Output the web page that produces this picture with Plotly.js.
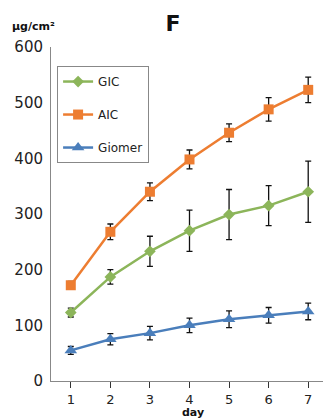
<!DOCTYPE html>
<html>
<head>
<meta charset="utf-8">
<script src="https://cdn.plot.ly/plotly-3.0.1.min.js"></script>
<style>
html,body{margin:0;padding:0;overflow:hidden;background:#fff;}
#chart{width:328px;height:419px;}
</style>
</head>
<body>
<div id="chart"></div>
<script>
const days = [1, 2, 3, 4, 5, 6, 7];
const gic = [123, 187, 233, 270, 299, 315, 340];
const gicErr = [8, 13, 27, 37, 45, 36, 55];
const aic = [172, 268, 340, 398, 446, 488, 523];
const aicErr = [7, 14, 16, 17, 16, 21, 23];
const giomer = [55, 75, 86, 100, 111, 118, 125];
const giomerErr = [7, 10, 12, 13, 15, 14, 15];
const seriesNames = ['GIC', 'AIC', 'Giomer'];

function trace(name, y, err, color, symbol, size, group) {
  return {
    x: days, y: y, name: name, type: 'scatter', mode: 'lines+markers',
    legendgroup: group,
    line: {color: color, width: 2.5},
    marker: {color: color, symbol: symbol, size: size},
    error_y: {type: 'data', array: err, visible: true, color: '#111', thickness: 1.3, width: 3}
  };
}

const data = [
  trace(seriesNames[0], gic, gicErr, '#8CB55A', 'diamond', 9, 'g1'),
  trace(seriesNames[1], aic, aicErr, '#ED7D31', 'square', 10, 'g2'),
  trace(seriesNames[2], giomer, giomerErr, '#4A7EBB', 'triangle-up', 11, 'g3')
];

const layout = {
  width: 328, height: 419,
  margin: {l: 51, r: 0, t: 47, b: 38},
  paper_bgcolor: '#fff', plot_bgcolor: '#fff',
  font: {family: 'DejaVu Sans, sans-serif', color: '#222'},
  title: {text: '<b>F</b>', font: {size: 22, color: '#111'}, x: 173/328, xref: 'container', xanchor: 'center', y: 1 - 23/419, yref: 'container', yanchor: 'middle'},
  showlegend: true,
  legend: {
    x: 0.022, y: 0.943, xanchor: 'left', yanchor: 'top',
    bordercolor: '#888', borderwidth: 1, bgcolor: '#fff',
    font: {size: 12, color: '#222'},
    traceorder: 'grouped', tracegroupgap: 14,
    itemwidth: 30
  },
  xaxis: {
    range: [0.5, 7.5], tickvals: days, ticktext: days.map(String),
    showgrid: false, zeroline: false, showline: true, linecolor: '#888', linewidth: 1,
    ticks: 'outside', ticklen: 6, tickcolor: '#333', tickwidth: 1,
    tickfont: {size: 13, color: '#222'}, ticklabelstandoff: 0,
    fixedrange: true
  },
  yaxis: {
    range: [0, 600], tickvals: [0, 100, 200, 300, 400, 500, 600],
    showgrid: false, zeroline: false, showline: true, linecolor: '#888', linewidth: 1,
    ticks: '', tickfont: {size: 15, color: '#222'}, ticklabelstandoff: 4,
    fixedrange: true
  },
  annotations: [{
    text: '<b>μg/cm²</b>', xref: 'paper', yref: 'paper',
    x: -41/277, y: 1 + 20/334, xanchor: 'left', yanchor: 'middle',
    showarrow: false, font: {size: 11, color: '#111'}
  }, {
    text: '<b>day</b>', xref: 'paper', yref: 'paper',
    x: (193 - 51)/277, y: -(420 - 381)/334, xanchor: 'center', yanchor: 'bottom',
    showarrow: false, font: {size: 11, color: '#111'}, borderpad: 0
  }]
};

Plotly.newPlot('chart', data, layout, {displayModeBar: false, staticPlot: true});
</script>
</body>
</html>
